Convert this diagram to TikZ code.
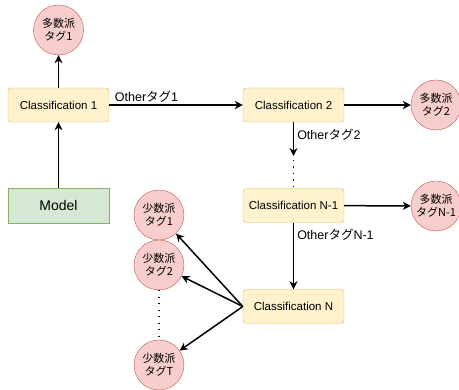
\documentclass[tikz,border=0pt]{standalone}
\usepackage{fontspec}
\setmainfont{Liberation Sans}
\newfontfamily\jp{Noto Sans CJK JP}
\usetikzlibrary{arrows.meta}
\definecolor{boxfill}{HTML}{FFF2CC}
\definecolor{boxline}{HTML}{D6B656}
\definecolor{modelfill}{HTML}{D5E8D4}
\definecolor{modelline}{HTML}{82B366}
\definecolor{tagfill}{HTML}{F8CECC}
\definecolor{tagline}{HTML}{B85450}

\begin{document}
\begin{tikzpicture}[x=1pt, y=-1pt]
            \tikzstyle{classbox} = [draw=boxline, fill=boxfill, rounded corners=3pt,
                minimum width=101pt, minimum height=34pt, font=\fontsize{11.5}{13}\selectfont]
            \tikzstyle{modelbox} = [draw=modelline, fill=modelfill,
                minimum width=101pt, minimum height=35pt, font=\fontsize{14}{16}\selectfont]
            \tikzstyle{tagcirc} = [draw=tagline, fill=tagfill, circle, minimum size=50pt,
                inner sep=0pt, align=center, font=\fontsize{11}{13}\selectfont]
            \tikzstyle{conn} = [line width=1.5pt, -{Stealth[length=8pt, width=8pt]}]
            \tikzstyle{dots} = [line width=1.5pt, dash pattern=on 1.2pt off 5.3pt]
            \tikzstyle{lbl} = [font=\fontsize{12.5}{14}\selectfont, inner sep=1pt]
            \useasboundingbox (0, 0) rectangle (459, 390);

            % top row
            \node[classbox] (c1) at (58.5, 105) {Classification 1};
            \node[classbox] (c2) at (293.5, 105) {Classification 2};
            \node[tagcirc] (maj1) at (58.5, 30) {\jp 多数派\\\jp タグ1};
            \node[tagcirc] (maj2) at (436, 105) {\jp 多数派\\\jp タグ2};
            \node[modelbox] (model) at (58.5, 205.5) {Model};

            % middle
            \node[classbox] (cn1) at (293.5, 205.5) {Classification N-1};
            \node[tagcirc] (majn1) at (436, 206) {\jp 多数派\\\jp タグN-1};
            \node[classbox] (cn) at (293.5, 306.5) {Classification N};

            % minority tags
            \node[tagcirc] (min1) at (159, 215) {\jp 少数派\\\jp タグ1};
            \node[tagcirc] (min2) at (159, 265) {\jp 少数派\\\jp タグ2};
            \node[tagcirc] (minT) at (159, 365) {\jp 少数派\\\jp タグT};
            \coordinate (gap) at (293.5, 156);

            \draw[conn] (model) -- (c1);
            \draw[conn] (c1) -- (maj1);
            \draw[conn] (c1) -- (c2)
                node[lbl, pos=0, anchor=south west, xshift=4pt, yshift=1pt]{Other{\jp タグ}1};
            \draw[conn] (c2) -- (maj2);
            \draw[conn] (c2) -- (gap)
                node[lbl, pos=0.36, right, xshift=2pt]{Other{\jp タグ}2};
            \draw[dots] (gap) ++(0, 4) -- (cn1);
            \draw[conn] (cn1) -- (majn1);
            \draw[conn] (cn1) -- (cn)
                node[lbl, pos=0.18, right, xshift=2pt]{Other{\jp タグ}N-1};

            \draw[conn] (cn.west) -- (min1);
            \draw[conn] (cn.west) -- (min2);
            \draw[conn] (cn.west) -- (minT);
            \draw[dots] (min2) -- (minT);
        \end{tikzpicture}
\end{document}
